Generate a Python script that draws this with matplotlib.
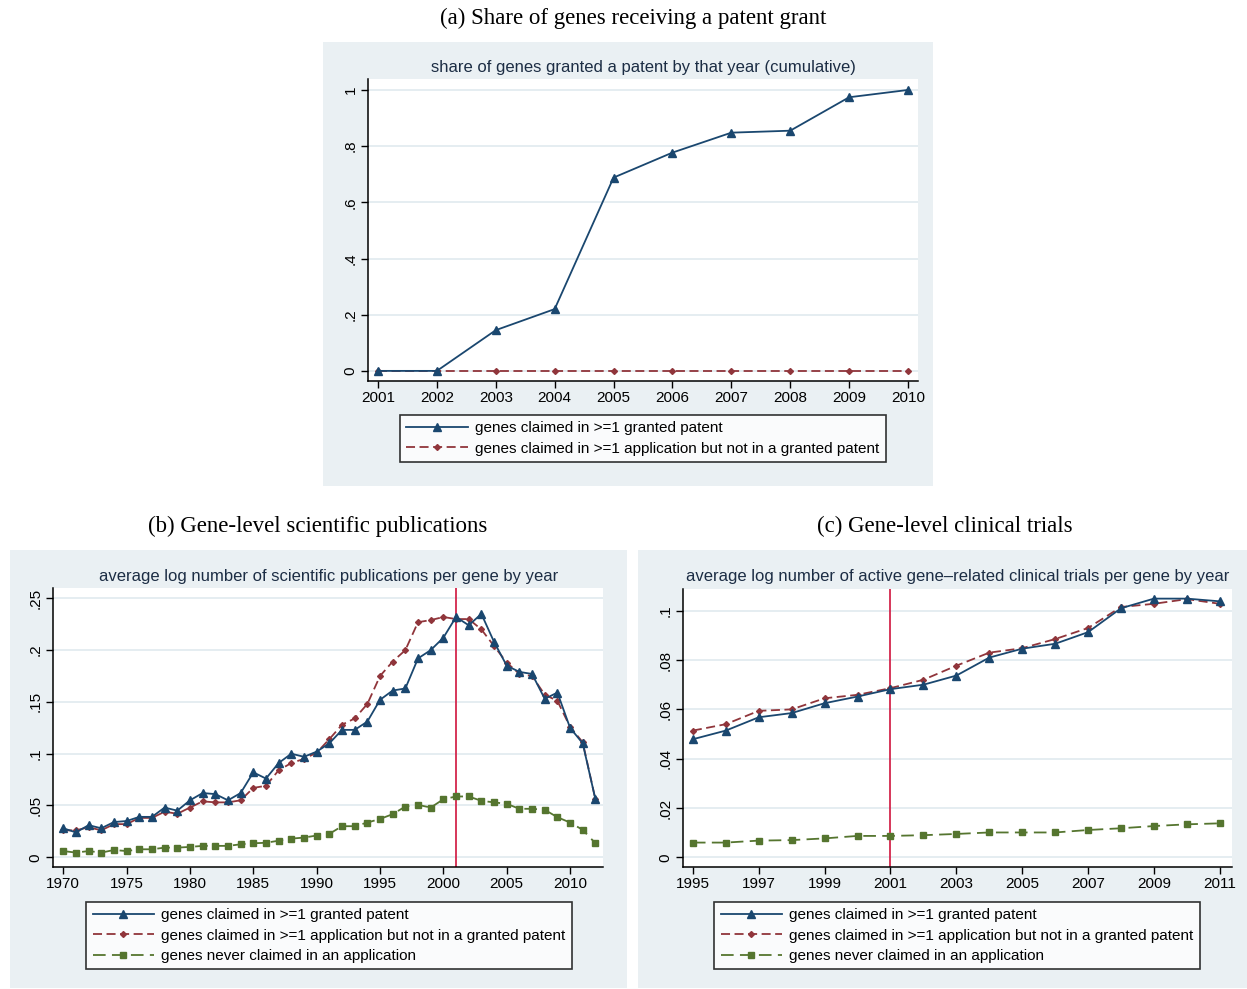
import matplotlib
matplotlib.use("Agg")
import matplotlib.pyplot as plt
from matplotlib.patches import Rectangle

# ---------------- data ----------------
years_a = [2001, 2002, 2003, 2004, 2005, 2006, 2007, 2008, 2009, 2010]
granted_a = [0.0, 0.0, 0.145, 0.220, 0.688, 0.777, 0.848, 0.855, 0.974, 1.0]
applied_a = [0.0, 0.0, 0.0, 0.0, 0.0, 0.0, 0.0, 0.0, 0.0, 0.0]

years_b = list(range(1970, 2013))
granted_b = [0.028, 0.024, 0.031, 0.028, 0.034, 0.035, 0.039, 0.039, 0.048, 0.045,
             0.055, 0.062, 0.061, 0.055, 0.062, 0.082, 0.076, 0.091, 0.100, 0.097,
             0.102, 0.110, 0.123, 0.123, 0.131, 0.152, 0.161, 0.163, 0.192, 0.200,
             0.212, 0.232, 0.224, 0.235, 0.208, 0.185, 0.179, 0.177, 0.153, 0.159,
             0.125, 0.110, 0.056]
applied_b = [0.026, 0.026, 0.029, 0.026, 0.032, 0.032, 0.038, 0.038, 0.044, 0.042,
             0.048, 0.054, 0.053, 0.053, 0.055, 0.067, 0.069, 0.084, 0.091, 0.095,
             0.101, 0.114, 0.128, 0.134, 0.148, 0.175, 0.189, 0.200, 0.227, 0.229,
             0.232, 0.230, 0.230, 0.220, 0.204, 0.188, 0.177, 0.175, 0.157, 0.151,
             0.126, 0.111, 0.056]
never_b = [0.006, 0.0045, 0.006, 0.0045, 0.007, 0.006, 0.0077, 0.0077, 0.0093, 0.0093,
           0.010, 0.011, 0.011, 0.011, 0.0125, 0.0135, 0.014, 0.016, 0.018, 0.019,
           0.021, 0.0226, 0.030, 0.030, 0.0335, 0.037, 0.0416, 0.049, 0.0506, 0.048,
           0.056, 0.0587, 0.0587, 0.0545, 0.053, 0.0516, 0.0468, 0.0468, 0.0458, 0.0387,
           0.0335, 0.0265, 0.0135]

years_c = list(range(1995, 2012))
granted_c = [0.0479, 0.0514, 0.0568, 0.0585, 0.0625, 0.0652, 0.0682, 0.0700, 0.0737,
             0.0810, 0.0846, 0.0866, 0.0913, 0.1010, 0.1049, 0.1049, 0.1038]
applied_c = [0.0514, 0.0540, 0.0594, 0.0600, 0.0645, 0.0659, 0.0686, 0.0720, 0.0777,
             0.0830, 0.0848, 0.0885, 0.0930, 0.1015, 0.1028, 0.1047, 0.1028]
never_c = [0.0060, 0.0060, 0.0068, 0.0070, 0.0077, 0.0087, 0.0087, 0.0090, 0.0095,
           0.0101, 0.0101, 0.0101, 0.0111, 0.0118, 0.0127, 0.0134, 0.0138]

yticks_a = [0, 0.2, 0.4, 0.6, 0.8, 1.0]
ylabels_a = ["0", ".2", ".4", ".6", ".8", "1"]
yticks_b = [0, 0.05, 0.10, 0.15, 0.20, 0.25]
ylabels_b = ["0", ".05", ".1", ".15", ".2", ".25"]
yticks_c = [0, 0.02, 0.04, 0.06, 0.08, 0.10]
ylabels_c = ["0", ".02", ".04", ".06", ".08", ".1"]
xticks_b = [1970, 1975, 1980, 1985, 1990, 1995, 2000, 2005, 2010]
xticks_c = [1995, 1997, 1999, 2001, 2003, 2005, 2007, 2009, 2011]

lab_granted = "genes claimed in >=1 granted patent"
lab_applied = "genes claimed in >=1 application but not in a granted patent"
lab_never = "genes never claimed in an application"

# ---------------- style ----------------
W, H = 1247, 989
NAVY = "#1a476f"
MAROON = "#90353b"
GREEN = "#55752f"
REGION = "#eaf0f3"
GRID = "#e3ecf0"
VLINE = "#d3264c"
TITLE_C = "#1c2d44"
SANS = ["Liberation Sans", "DejaVu Sans"]
SERIF = ["Liberation Serif", "DejaVu Serif"]

fig = plt.figure(figsize=(W / 100, H / 100), dpi=100)
fig.patch.set_facecolor("white")


def px_rect(l, t, r, b):
    return [l / W, 1 - b / H, (r - l) / W, (b - t) / H]


def region(l, t, r, b):
    fig.patches.append(Rectangle((l / W, 1 - b / H), (r - l) / W, (b - t) / H,
                                 transform=fig.transFigure, facecolor=REGION,
                                 edgecolor="none", zorder=-10))


def style_axes(ax, yticks, ylabels, xticks):
    ax.set_zorder(5)
    ax.set_facecolor("white")
    for s in ["top", "right"]:
        ax.spines[s].set_visible(False)
    for s in ["left", "bottom"]:
        ax.spines[s].set_color("black")
        ax.spines[s].set_linewidth(1.1)
    ax.set_yticks(yticks)
    ax.set_yticklabels(ylabels, rotation=90, va="center", family=SANS, fontsize=11)
    ax.set_xticks(xticks)
    ax.set_xticklabels([str(x) for x in xticks], family=SANS, fontsize=11)
    ax.tick_params(direction="out", length=5, width=1.0, colors="black", pad=2.5)
    ax.grid(axis="y", color=GRID, linewidth=1.3)
    ax.set_axisbelow(True)


def plot_series(ax, x, ys):
    ax.plot(x, ys[0], color=NAVY, lw=1.3, marker="^", ms=5.5, label=lab_granted, zorder=4)
    ax.plot(x, ys[1], color=MAROON, lw=1.3, ls=(0, (5, 2.5)), marker="D", ms=3,
            label=lab_applied, zorder=3)
    if len(ys) > 2:
        ax.plot(x, ys[2], color=GREEN, lw=1.3, ls=(0, (7, 3.5)), marker="s", ms=5,
                label=lab_never, zorder=3)


def add_legend(ax, center_x, top_y):
    leg = ax.legend(loc="upper center",
                    bbox_to_anchor=(center_x / W, 1 - top_y / H),
                    bbox_transform=fig.transFigure,
                    numpoints=1, handlelength=4.0, handletextpad=0.5,
                    borderpad=0.4, borderaxespad=0.0, labelspacing=0.42,
                    fancybox=False, frameon=True,
                    prop={"family": SANS, "size": 11})
    leg.get_frame().set_edgecolor("black")
    leg.get_frame().set_linewidth(1.2)
    leg.get_frame().set_facecolor("white")
    return leg


# ---------------- panel (a) ----------------
region(323, 42, 933, 486)
fig.text(633 / W, 1 - 18 / H, "(a) Share of genes receiving a patent grant",
         ha="center", va="center", family=SERIF, fontsize=16.5)
axa = fig.add_axes(px_rect(368, 79, 918, 381))
plot_series(axa, years_a, [granted_a, applied_a])
style_axes(axa, yticks_a, ylabels_a, years_a)
axa.set_xlim(2000.83, 2010.17)
axa.set_ylim(-0.036, 1.039)
fig.text(643 / W, 1 - 68 / H, "share of genes granted a patent by that year (cumulative)",
         ha="center", va="center", family=SANS, fontsize=12, color=TITLE_C)
add_legend(axa, 643, 415)

# ---------------- panel (b) ----------------
region(10, 550, 627, 988)
fig.text(318 / W, 1 - 526 / H, "(b) Gene-level scientific publications",
         ha="center", va="center", family=SERIF, fontsize=16.5)
axb = fig.add_axes(px_rect(53, 588, 603, 867))
plot_series(axb, years_b, [granted_b, applied_b, never_b])
style_axes(axb, yticks_b, ylabels_b, xticks_b)
axb.axvline(2001, color=VLINE, lw=1.3, zorder=2)
axb.set_xlim(1969.19, 2012.6)
axb.set_ylim(-0.0094, 0.26)
fig.text(329 / W, 1 - 577 / H,
         "average log number of scientific publications per gene by year",
         ha="center", va="center", family=SANS, fontsize=12, color=TITLE_C)
add_legend(axb, 329, 902)

# ---------------- panel (c) ----------------
region(638, 550, 1247, 988)
fig.text(945 / W, 1 - 526 / H, "(c) Gene-level clinical trials",
         ha="center", va="center", family=SERIF, fontsize=16.5)
axc = fig.add_axes(px_rect(683, 589, 1232, 867))
plot_series(axc, years_c, [granted_c, applied_c, never_c])
style_axes(axc, yticks_c, ylabels_c, xticks_c)
axc.axvline(2001, color=VLINE, lw=1.3, zorder=2)
axc.set_xlim(1994.7, 2011.37)
axc.set_ylim(-0.0039, 0.1088)
fig.text(958 / W, 1 - 577 / H,
         "average log number of active gene\u2013related clinical trials per gene by year",
         ha="center", va="center", family=SANS, fontsize=12, color=TITLE_C)
add_legend(axc, 957, 902)

fig.savefig("out.png", dpi=100, facecolor="white")
